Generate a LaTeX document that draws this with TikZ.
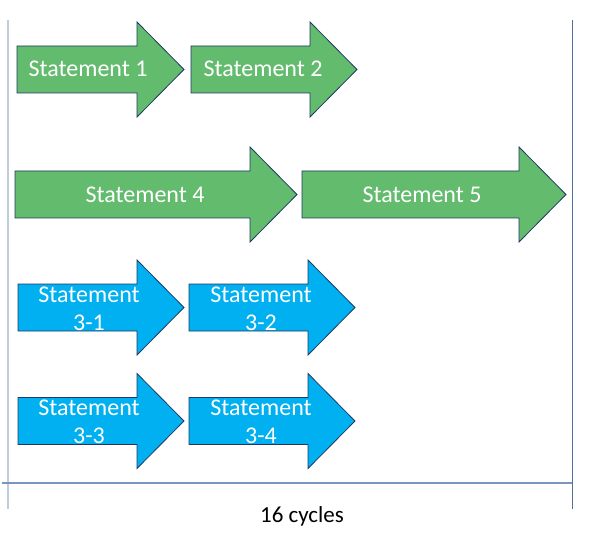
\documentclass[tikz,border=0pt]{standalone}
\usepackage{fontspec}
\setmainfont{Carlito}
\usetikzlibrary{positioning,calc}
\definecolor{stmtgreen}{RGB}{99,187,110}
\definecolor{stmtblue}{RGB}{0,176,240}
\definecolor{stmtedge}{RGB}{31,56,100}
\definecolor{axisleft}{RGB}{190,204,220}
\definecolor{axisright}{RGB}{80,110,160}
\definecolor{axisbase}{RGB}{120,150,190}

% arrow shape: tip name, tail x, head x, centre y, fill
\newcommand{\stmtarrow}[5]{%
  \draw[stmtbody, fill=#5] (#2,#4-23.5) -- (#3,#4-23.5) -- (#3,#4-47.5)
    -- (#3+47,#4) coordinate (#1) -- (#3,#4+47.5) -- (#3,#4+23.5)
    -- (#2,#4+23.5) -- cycle;
}

\begin{document}
\begin{tikzpicture}[
    x=1pt, y=-1pt,
    stmtbody/.style={draw=stmtedge, line width=0.8pt, line join=miter},
    stmttext/.style={text=white, anchor=base, align=center,
      font=\fontsize{24}{28}\selectfont},
    axis/.style={line width=1.2pt}
]
    \useasboundingbox (0,0) rectangle (589,540);

    % time axis
    \coordinate (lefttop) at (8,20);
    \coordinate (leftbot) at (8,509);
    \coordinate (righttop) at (572,20);
    \coordinate (rightbot) at (572,509);
    \coordinate (basestart) at (2,483);
    \coordinate (baseend) at (572,483);
    \draw[axis, draw=axisleft, line width=1.6pt] (lefttop) -- (leftbot);
    \draw[axis, draw=axisright, line width=0.9pt] (righttop) -- (rightbot);
    \draw[axis, draw=axisbase] (basestart) -- (baseend);
    \node[anchor=base, font=\fontsize{23}{28}\selectfont] (cycles) at (302,522) {16 cycles};

    % green statements
    \stmtarrow{a1}{17}{137}{69.5}{stmtgreen}
    \stmtarrow{a2}{191}{310}{69.5}{stmtgreen}
    \stmtarrow{a4}{15}{250}{194.5}{stmtgreen}
    \stmtarrow{a5}{302}{519}{194.5}{stmtgreen}
    \node[stmttext] (s1) at (88,77) {Statement 1};
    \node[stmttext] (s2) at (263,77) {Statement 2};
    \node[stmttext] (s4) at (145,203) {Statement 4};
    \node[stmttext] (s5) at (422,203) {Statement 5};

    % blue statements (base = last line)
    \stmtarrow{a31}{18}{137}{307.5}{stmtblue}
    \stmtarrow{a32}{189}{308}{307.5}{stmtblue}
    \stmtarrow{a33}{18}{137}{421}{stmtblue}
    \stmtarrow{a34}{189}{308}{421}{stmtblue}
    \node[stmttext] (s31) at (89,330) {Statement\\3-1};
    \node[stmttext] (s32) at (261,330) {Statement\\3-2};
    \node[stmttext] (s33) at (89,443) {Statement\\3-3};
    \node[stmttext] (s34) at (261,443) {Statement\\3-4};
\end{tikzpicture}
\end{document}
